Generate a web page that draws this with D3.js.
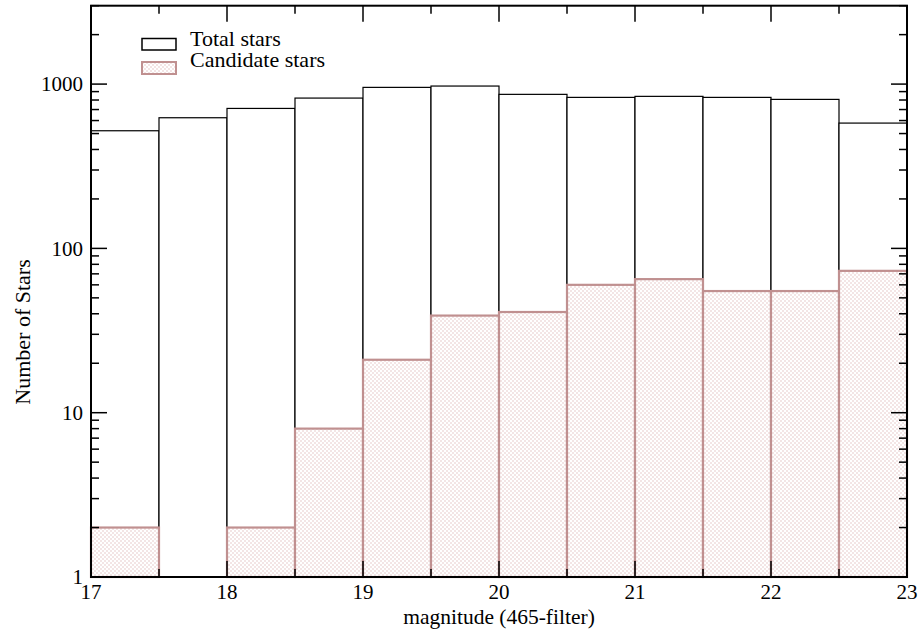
<!DOCTYPE html>
<html>
<head>
<meta charset="utf-8">
<script src="https://cdn.jsdelivr.net/npm/d3@7"></script>
<style>
  html, body { margin: 0; padding: 0; background: #fff; }
  svg { display: block; }
  text { font-family: "Liberation Serif", "Times New Roman", serif; fill: #000; }
</style>
</head>
<body>
<svg id="chart" width="922" height="634"></svg>
<script>
// ---- data ----
const binStarts = [17.0, 17.5, 18.0, 18.5, 19.0, 19.5, 20.0, 20.5, 21.0, 21.5, 22.0, 22.5];
const binWidth = 0.5;
const totalStars = [520, 624, 711, 822, 955, 973, 866, 830, 842, 830, 807, 579];
const candidateStars = [2, 1, 2, 8, 21, 39, 41, 60, 65, 55, 55, 73];
const xTickValues = [17, 18, 19, 20, 21, 22, 23];
const yTickValues = [1, 10, 100, 1000];
const legendLabels = ["Total stars", "Candidate stars"];
const xLabel = "magnitude (465-filter)";
const yLabel = "Number of Stars";

(function () {
// ---- layout ----
const margin = { left: 91, right: 15, top: 5.7, bottom: 57 };
const W = 922, H = 634;
const svg = d3.select("#chart");
const x = d3.scaleLinear().domain([17, 23]).range([margin.left, W - margin.right]);
const y = d3.scaleLog().domain([1, 3000]).range([H - margin.bottom, margin.top]);

const candColor = "#c09090";
const defs = svg.append("defs");
const pat = defs.append("pattern").attr("id", "dots")
  .attr("patternUnits", "userSpaceOnUse").attr("width", 4).attr("height", 4);
pat.append("rect").attr("width", 4).attr("height", 4).attr("fill", "#fff");
pat.append("rect").attr("x", 0.5).attr("y", 0.5).attr("width", 1).attr("height", 1).attr("fill", "#d09a9a");
pat.append("rect").attr("x", 2.5).attr("y", 2.5).attr("width", 1).attr("height", 1).attr("fill", "#d09a9a");

const y0 = y(1);
const bw = x(17 + binWidth) - x(17);

// total bars
svg.append("g").selectAll("rect").data(binStarts).join("rect")
  .attr("x", d => x(d))
  .attr("width", bw)
  .attr("y", (d, i) => y(totalStars[i]))
  .attr("height", (d, i) => y0 - y(totalStars[i]))
  .attr("fill", "#fff").attr("stroke", "#000").attr("stroke-width", 1.2);

// candidate bars
svg.append("g").selectAll("rect").data(binStarts).join("rect")
  .attr("x", d => x(d))
  .attr("width", bw)
  .attr("y", (d, i) => y(candidateStars[i]))
  .attr("height", (d, i) => y0 - y(candidateStars[i]))
  .attr("fill", "url(#dots)").attr("stroke", candColor).attr("stroke-width", 2.2);

// ticks
const xMinor = d3.range(17.5, 23, 1);
const yMinor = [];
[1, 10, 100, 1000].forEach(b => { for (let k = 2; k <= 9; k++) { const v = b * k; if (v <= 3000) yMinor.push(v); } });

const axG = svg.append("g").attr("stroke", "#000").attr("stroke-width", 1.5);
const pTop = margin.top, pBot = y0, L = x(17), R = x(23);
xTickValues.forEach(v => {
  axG.append("line").attr("x1", x(v)).attr("x2", x(v)).attr("y1", pBot).attr("y2", pBot - 16);
  axG.append("line").attr("x1", x(v)).attr("x2", x(v)).attr("y1", pTop).attr("y2", pTop + 16);
});
xMinor.forEach(v => {
  axG.append("line").attr("x1", x(v)).attr("x2", x(v)).attr("y1", pBot).attr("y2", pBot - 8);
  axG.append("line").attr("x1", x(v)).attr("x2", x(v)).attr("y1", pTop).attr("y2", pTop + 8);
});
yTickValues.forEach(v => {
  axG.append("line").attr("x1", L).attr("x2", L + 16).attr("y1", y(v)).attr("y2", y(v));
  axG.append("line").attr("x1", R).attr("x2", R - 16).attr("y1", y(v)).attr("y2", y(v));
});
yMinor.forEach(v => {
  axG.append("line").attr("x1", L).attr("x2", L + 8).attr("y1", y(v)).attr("y2", y(v));
  axG.append("line").attr("x1", R).attr("x2", R - 8).attr("y1", y(v)).attr("y2", y(v));
});

// frame
svg.append("rect").attr("x", L).attr("y", pTop).attr("width", R - L).attr("height", pBot - pTop)
  .attr("fill", "none").attr("stroke", "#000").attr("stroke-width", 2);

// tick labels
svg.append("g").selectAll("text").data(xTickValues).join("text")
  .attr("x", d => x(d)).attr("y", pBot + 22).attr("text-anchor", "middle")
  .attr("font-size", 21).text(d => d);
svg.append("g").selectAll("text").data(yTickValues).join("text")
  .attr("x", L - 8).attr("y", d => y(d)).attr("dy", "0.35em").attr("text-anchor", "end")
  .attr("font-size", 21).text(d => d);

// axis labels
svg.append("text").attr("x", (L + R) / 2).attr("y", pBot + 47).attr("text-anchor", "middle")
  .attr("font-size", 21.5).text(xLabel);
svg.append("text").attr("transform", "translate(30,332) rotate(-90)")
  .attr("text-anchor", "middle").attr("font-size", 22).text(yLabel);

// legend
const leg = svg.append("g");
leg.append("rect").attr("x", 142).attr("y", 38.5).attr("width", 34).attr("height", 11.5)
  .attr("fill", "#fff").attr("stroke", "#000").attr("stroke-width", 1.5);
leg.append("rect").attr("x", 142).attr("y", 62).attr("width", 34).attr("height", 12)
  .attr("fill", "url(#dots)").attr("stroke", candColor).attr("stroke-width", 2);
leg.append("text").attr("x", 190).attr("y", 46).attr("font-size", 22).text(legendLabels[0]);
leg.append("text").attr("x", 190).attr("y", 67).attr("font-size", 22).text(legendLabels[1]);
})();
</script>
</body>
</html>
